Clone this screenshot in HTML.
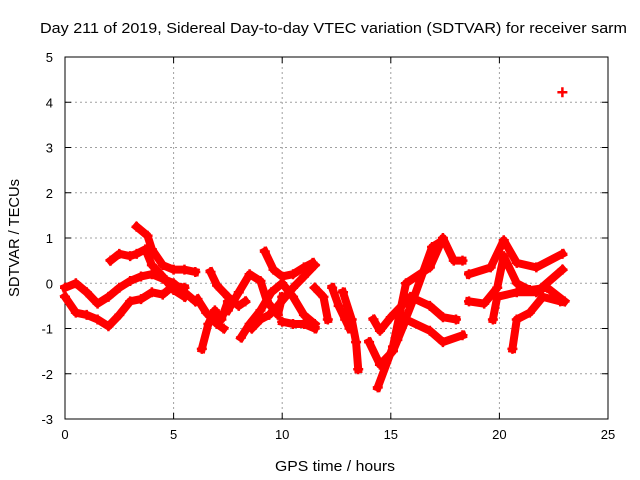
<!DOCTYPE html>
<html><head><meta charset="utf-8"><style>
body{margin:0;background:#fff}
svg{display:block;font-family:"Liberation Sans",sans-serif}
</style></head><body>
<svg id="chart" width="640" height="480" viewBox="0 0 640 480">
<rect width="640" height="480" fill="#fff"/>
<text x="40" y="33" font-size="15" textLength="587" lengthAdjust="spacingAndGlyphs">Day 211 of 2019, Sidereal Day-to-day VTEC variation (SDTVAR) for receiver sarm</text>
<g id="grid"></g>
<g id="axes"></g>
<g id="marks"></g>
<text x="335" y="471" font-size="15" text-anchor="middle" textLength="120" lengthAdjust="spacingAndGlyphs">GPS time / hours</text>
<text transform="translate(19,238) rotate(-90)" font-size="15" text-anchor="middle" textLength="118" lengthAdjust="spacingAndGlyphs">SDTVAR / TECUs</text>
</svg>
<script>
const xTicks=[0,5,10,15,20,25];
const yTicks=[-3,-2,-1,0,1,2,3,4,5];
const track1=[[0,-0.1],[0.5,0],[1,-0.2],[1.5,-0.45],[2,-0.3],[2.5,-0.1],[3,0.05],[3.5,0.15],[4,0.2],[4.5,0.1],[5,0],[5.5,-0.2],[6,-0.4]];
const track2=[[0,-0.3],[0.5,-0.65],[1,-0.7],[1.5,-0.8],[2,-0.95],[2.5,-0.7],[3,-0.4],[3.5,-0.35],[4,-0.2],[4.5,-0.25],[5,-0.05],[5.5,-0.1]];
const track3=[[2.1,0.5],[2.5,0.65],[3,0.6],[3.3,0.65],[3.7,0.75],[4,0.4],[4.5,0.15],[5,-0.15],[5.5,-0.3]];
const track4=[[3.3,1.25],[3.8,1.05],[4,0.75],[4.5,0.4],[5,0.3],[5.5,0.3],[6,0.25]];
const track5=[[6.3,-1.45],[6.6,-0.9],[6.9,-0.6],[7.2,-0.8],[7.5,-0.4]];
const track6=[[6.1,-0.35],[6.5,-0.65],[7,-0.9],[7.3,-1.0]];
const track7=[[6.7,0.25],[7,-0.05],[7.5,-0.3],[8,-0.5],[8.3,-0.4]];
const track8=[[7.5,-0.6],[8,-0.2],[8.5,0.2],[9,0.05],[9.3,-0.4],[9.8,-0.7],[10,-0.3]];
const track9=[[8.6,-1.0],[9,-0.8],[9.4,-0.7],[9.8,-0.5],[10.5,-0.1],[11,0.15],[11.5,0.4]];
const track10=[[9.2,0.7],[9.6,0.3],[10,0.15],[10.5,0.2],[11,0.35],[11.4,0.45]];
const track11=[[8.1,-1.2],[8.5,-0.9],[9,-0.6],[9.5,-0.2],[10,0],[10.5,-0.3],[11,-0.7],[11.5,-0.9]];
const track12=[[10,-0.85],[10.5,-0.9],[11,-0.9],[11.5,-1.0]];
const track13=[[11.5,-0.1],[11.9,-0.3],[12.1,-0.8]];
const track14=[[12.3,-0.1],[12.6,-0.5],[12.9,-0.8],[13.1,-1.0]];
const track15=[[12.8,-0.2],[13.2,-0.8],[13.4,-1.3],[13.5,-1.9]];
const track16=[[14.4,-2.3],[15.1,-1.4],[15.7,0],[16.8,0.35],[17.4,1.0],[17.9,0.5],[18.3,0.5]];
const track17=[[14.2,-0.8],[14.5,-1.05],[15,-0.75],[15.9,-0.3],[16.8,-0.5],[17.4,-0.75],[18,-0.8]];
const track18=[[14,-1.3],[14.5,-1.8],[15.1,-1.5],[15.7,-0.8],[16.8,-1.05],[17.4,-1.3],[18.3,-1.15]];
const track19=[[15.3,-1.25],[16,-0.4],[16.9,0.8],[17.4,0.95]];
const track20=[[18.6,0.2],[19.6,0.35],[20.2,0.95],[20.8,0.45],[21.7,0.35],[22.9,0.65]];
const track21=[[18.6,-0.4],[19.3,-0.45],[19.9,-0.1],[20.2,0.6],[20.8,0],[21.4,-0.15],[22.2,-0.1],[23,-0.4]];
const track22=[[19.7,-0.8],[19.9,-0.3],[20.8,-0.2],[21.7,-0.2],[22.9,0.3]];
const track23=[[20.6,-1.45],[20.8,-0.8],[21.4,-0.65],[22,-0.3],[22.8,-0.4]];
const outlier=[[22.9,4.22]];
const tracks=[track1,track2,track3,track4,track5,track6,track7,track8,track9,track10,track11,track12,track13,track14,track15,track16,track17,track18,track19,track20,track21,track22,track23,outlier];

const X0=65,X1=608,Y0=419,Y1=57;
const xs=t=>X0+(t-0)/(25-0)*(X1-X0);
const ys=v=>Y0-(v+3)/(8)*(Y0-Y1);
const NS="http://www.w3.org/2000/svg";
const grid=document.getElementById('grid'),axes=document.getElementById('axes'),marks=document.getElementById('marks');
function mk(tag,at,parent){const e=document.createElementNS(NS,tag);for(const k in at)e.setAttribute(k,at[k]);parent.appendChild(e);return e;}
xTicks.forEach(t=>{
  const x=xs(t);
  if(t>0&&t<25){const g=mk('line',{x1:x,x2:x,y1:Y0,y2:Y1,stroke:'#a0a0a0','stroke-dasharray':'2,3'},grid);
  
  }
  const l=mk('text',{x:x,y:Y0+20,'font-size':13,'text-anchor':'middle'},axes);l.textContent=t;
  
  
  mk('line',{x1:x,x2:x,y1:Y0,y2:Y0-6,stroke:'#000'},axes);
  mk('line',{x1:x,x2:x,y1:Y1,y2:Y1+6,stroke:'#000'},axes);
});
yTicks.forEach(v=>{
  const y=ys(v);
  if(v>-3&&v<5){const g=mk('line',{x1:X0,x2:X1,y1:y,y2:y,stroke:'#a0a0a0','stroke-dasharray':'2,3'},grid);
  
  }
  const l=mk('text',{x:X0-12,y:y+5,'font-size':13,'text-anchor':'end'},axes);l.textContent=v;
  
  
  mk('line',{x1:X0,x2:X0+6,y1:y,y2:y,stroke:'#000'},axes);
  mk('line',{x1:X1,x2:X1-6,y1:y,y2:y,stroke:'#000'},axes);
});
const fr=mk('rect',{x:X0,y:Y1,width:X1-X0,height:Y0-Y1,fill:'none',stroke:'#000'},axes);


tracks.forEach(tr=>{
  const pl=mk('polyline',{points:tr.map(p=>xs(p[0])+','+ys(p[1])).join(' '),fill:'none',stroke:'#ff0000','stroke-width':8,'stroke-linejoin':'round','stroke-linecap':'square'},marks);
  
  
  tr.forEach(p=>{
    const x=xs(p[0]),y=ys(p[1]);
    const m=mk('path',{d:`M${x-5},${y}H${x+5}M${x},${y-5}V${y+5}`,stroke:'#ff0000','stroke-width':2.5},marks);
    
    
  });
});
</script>
</body></html>
